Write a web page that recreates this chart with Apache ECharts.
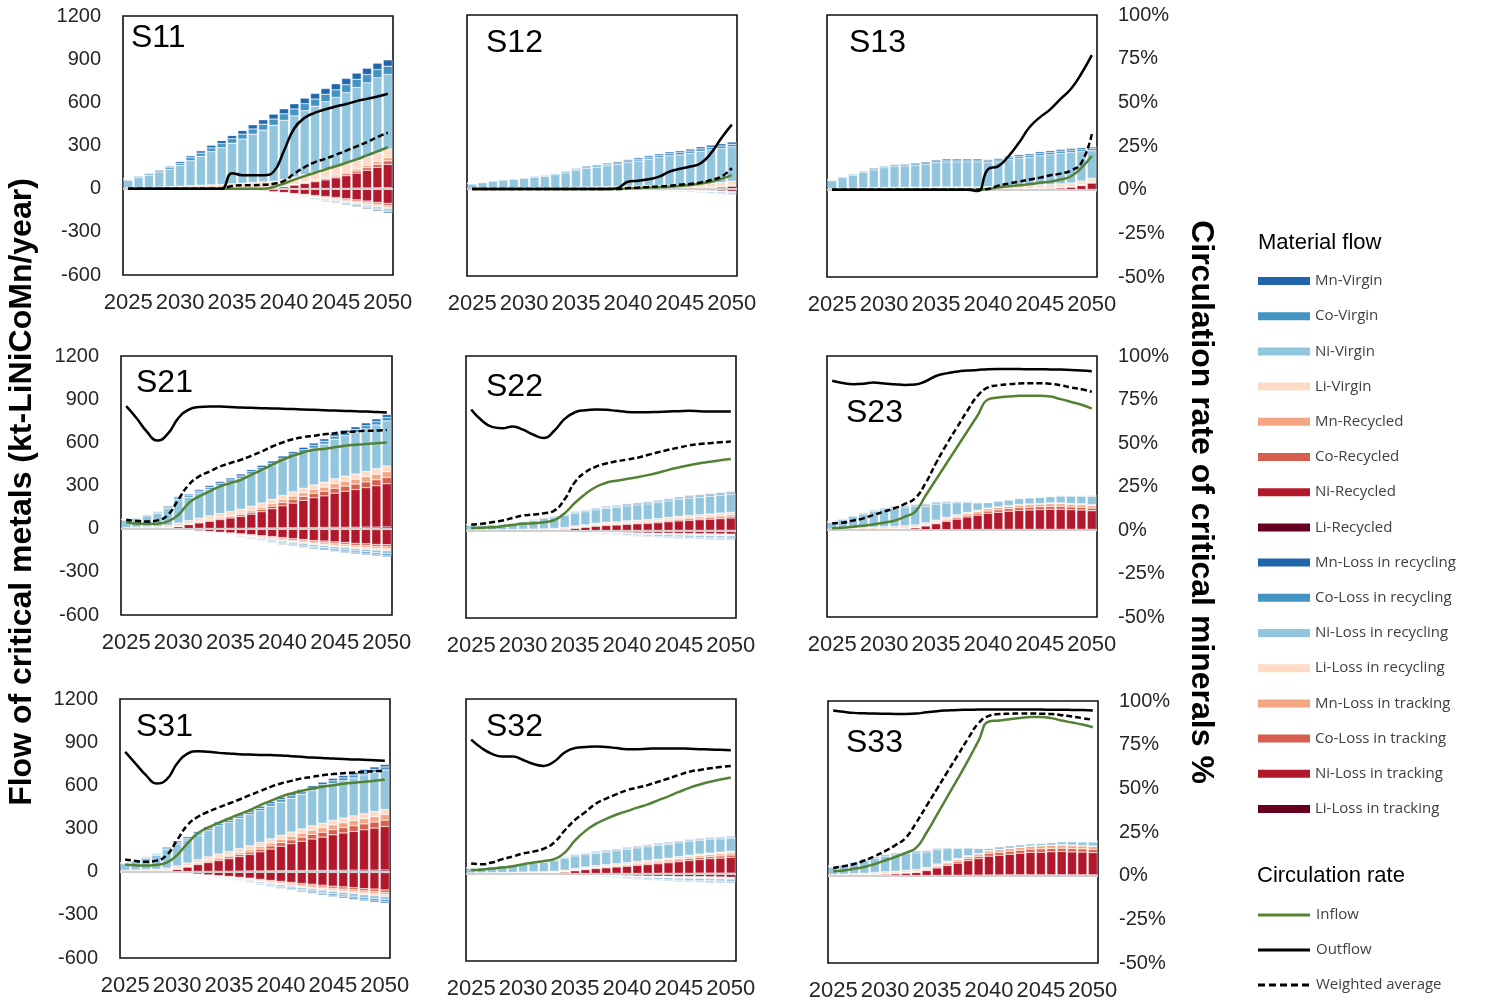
<!DOCTYPE html>
<html><head><meta charset="utf-8">
<script src="https://cdn.jsdelivr.net/npm/echarts@6/dist/echarts.min.js"></script>
<style>html,body{margin:0;padding:0;background:#fff}#c{width:1487px;height:1004px}</style>
</head><body><div id="c"></div>
<script>
var years = ['2025','2026','2027','2028','2029','2030','2031','2032','2033','2034','2035','2036','2037','2038','2039','2040','2041','2042','2043','2044','2045','2046','2047','2048','2049','2050'];
var flowNames = ['Mn-Virgin','Co-Virgin','Ni-Virgin','Li-Virgin','Mn-Recycled','Co-Recycled','Ni-Recycled','Li-Recycled','Mn-Loss in recycling','Co-Loss in recycling','Ni-Loss in recycling','Li-Loss in recycling','Mn-Loss in tracking','Co-Loss in tracking','Ni-Loss in tracking','Li-Loss in tracking'];
var flowKeys = ['MnV','CoV','NiV','LiV','MnR','CoR','NiR','LiR','MnLR','CoLR','NiLR','LiLR','MnLT','CoLT','NiLT','LiLT'];
var rateNames = ['Inflow','Outflow','Weighted average'];
var rateKeys = ['In','Out','Wavg'];
var panelNames = ['S11','S12','S13','S21','S22','S23','S31','S32','S33'];

// ---- S11 (kt/year; losses as magnitudes; rates in %) ----
var S11_MnV = [4,6,8,9,10,13,14,17,20,22,23,26,29,31,34,35,36,38,39,40,42,43,43,44,44,44];
var S11_CoV = [6,8,10,11,13,15,20,22,25,28,31,34,36,41,43,45,48,49,50,52,53,55,56,57,57,57];
var S11_NiV = [53,70,83,104,120,145,174,201,231,255,282,307,336,360,389,410,425,444,458,470,482,494,507,513,521,518];
var S11_LiV = [6,8,10,12,14,17,21,24,27,30,33,36,40,43,46,48,50,52,54,56,57,59,60,61,62,61];
var S11_MnR = [0,0,0,0,0,0,0,0,0,0,0,0,0,0,1,2,3,5,6,8,10,12,14,16,19,22];
var S11_CoR = [0,0,0,0,0,0,0,0,0,0,0,0,0,0,1,2,3,5,7,9,10,13,15,18,21,24];
var S11_NiR = [0,0,0,0,0,0,0,0,0,0,1,2,3,4,4,12,24,35,46,59,72,87,104,123,142,163];
var S11_LiR = [0,0,0,0,0,0,0,0,0,0,0,0,0,0,0,1,1,1,2,2,3,3,4,5,6,6];
var S11_MnLR = [0,0,0,0,0,0,0,0,0,0,0,1,1,1,2,2,3,3,4,5,5,6,6,7,8,9];
var S11_CoLR = [0,0,0,0,0,0,0,0,0,0,0,1,1,2,2,3,3,4,5,5,6,7,8,8,9,10];
var S11_NiLR = [0,0,0,0,0,0,0,0,0,0,0,1,1,2,2,3,4,5,6,7,7,8,9,10,11,13];
var S11_LiLR = [0,0,0,0,0,0,0,0,0,0,0,1,1,2,2,3,3,4,5,5,6,7,8,8,9,10];
var S11_MnLT = [0,0,0,0,0,0,0,0,0,0,1,1,1,2,2,3,4,5,5,6,7,8,9,10,11,12];
var S11_CoLT = [0,0,0,0,0,0,0,0,0,0,1,1,1,2,3,4,4,5,6,7,8,9,10,11,12,14];
var S11_NiLT = [0,0,0,0,1,2,3,4,5,6,6,6,10,13,21,26,32,37,45,52,58,67,74,82,90,97];
var S11_LiLT = [0,0,0,0,0,0,0,0,0,0,0,0,1,1,1,1,2,2,2,3,3,3,4,4,5,5];
var S11_In = [0,0,0,0,0,0,0,0,0,0,0,0,0,0,1,3,5.2,7.3,9.2,11.2,13,15,17,19.3,21.6,24];
var S11_Out = [0,0,0,0,0,0,0,0,0,0,9,7.8,7.7,7.8,9.8,22,35,41,44,46,47.6,49,50.7,52,53.4,55];
var S11_Wavg = [0,0,0,0,0,0,0,0,0,0,1.5,2,2,2.2,2.8,4.5,8.7,12.5,15.4,17.3,19.7,22,24.5,27,29.9,32.4];

// ---- S12 ----
var S12_MnV = [2,2,3,3,4,4,5,5,6,6,7,8,8,9,10,10,11,11,12,13,13,13,14,15,15,15];
var S12_CoV = [2,3,4,4,5,5,6,6,7,8,9,10,10,11,11,12,13,14,14,15,16,16,17,17,18,18];
var S12_NiV = [31,40,49,56,60,67,74,79,88,100,114,128,136,144,152,163,173,183,193,203,208,216,226,232,235,238];
var S12_LiV = [4,4,6,6,7,7,8,9,10,11,13,14,15,16,17,18,19,21,22,23,23,24,25,26,26,27];
var S12_MnR = [0,0,0,0,0,0,0,0,0,0,0,0,0,0,0,0,0,0,0,0,0,1,1,1,2,3];
var S12_CoR = [0,0,0,0,0,0,0,0,0,0,0,0,0,0,0,0,0,0,0,0,0,1,1,1,2,3];
var S12_NiR = [0,0,0,0,0,0,0,0,0,0,0,0,0,0,0,1,1,2,2,3,4,4,7,11,13,19];
var S12_LiR = [0,0,0,0,0,0,0,0,0,0,0,0,0,0,0,0,0,0,0,0,0,0,0,0,1,1];
var S12_MnLR = [0,0,0,0,0,0,0,0,0,0,0,0,0,0,1,1,1,1,2,2,2,3,3,3,4,4];
var S12_CoLR = [0,0,0,0,0,0,0,0,0,0,0,0,0,1,1,1,1,2,2,2,3,3,3,4,4,4];
var S12_NiLR = [0,0,0,0,0,0,0,0,0,0,1,1,1,1,2,3,3,4,5,6,6,7,8,9,10,11];
var S12_LiLR = [0,0,0,0,0,0,0,0,0,0,0,0,0,0,1,1,1,1,2,2,2,2,3,3,3,3];
var S12_MnLT = [0,0,0,0,0,0,0,0,0,0,0,0,0,0,0,0,1,1,1,1,1,1,2,2,2,2];
var S12_CoLT = [0,0,0,0,0,0,0,0,0,0,0,0,0,0,0,1,1,1,1,1,2,2,2,2,2,3];
var S12_NiLT = [0,0,0,0,0,0,0,0,0,1,1,2,3,3,2,3,5,6,6,8,9,9,10,11,13,15];
var S12_LiLT = [0,0,0,0,0,0,0,0,0,0,0,0,0,0,0,0,0,0,0,0,0,1,1,1,1,1];
var S12_In = [0,0,0,0,0,0,0,0,0,0,0,0,0,0,0,0.3,0.5,0.8,1,1.3,1.7,2.3,3.1,4.2,5.8,8];
var S12_Out = [0,0,0,0,0,0,0,0,0,0,0,0,0,0,0.5,4.2,4.8,5.6,7.1,10,11.6,12.9,14.8,20.6,29.3,37];
var S12_Wavg = [0,0,0,0,0,0,0,0,0,0,0,0,0,0,0,0.6,0.8,1.2,1.5,1.9,2.5,2.9,3.7,5.2,7.1,12];

// ---- S13 ----
var S13_MnV = [3,5,6,7,8,8,9,9,9,10,10,11,11,11,11,10,11,11,12,12,13,13,13,13,13,12];
var S13_CoV = [4,6,7,8,9,10,11,11,11,12,12,13,13,13,13,12,13,14,14,14,15,15,16,16,15,14];
var S13_NiV = [56,74,90,107,122,136,142,147,150,155,167,172,172,172,172,166,169,182,188,191,200,205,209,210,202,190];
var S13_LiV = [6,8,10,12,14,15,16,16,17,17,19,19,19,19,19,19,19,20,21,22,23,23,24,24,23,21];
var S13_MnR = [0,0,0,0,0,0,0,0,0,0,0,0,0,0,0,0,0,0,1,1,1,1,2,2,4,6];
var S13_CoR = [0,0,0,0,0,0,0,0,0,0,0,0,0,0,0,0,0,0,1,1,1,1,2,2,4,6];
var S13_NiR = [0,0,0,0,0,0,0,0,0,0,0,0,0,0,0,1,3,4,4,6,8,10,12,17,27,43];
var S13_LiR = [0,0,0,0,0,0,0,0,0,0,0,0,0,0,0,0,0,0,0,0,0,0,0,1,1,2];
var S13_MnLR = [0,0,0,0,0,0,0,0,0,0,0,0,0,0,0,0,0,1,1,1,1,1,1,1,1,2];
var S13_CoLR = [0,0,0,0,0,0,0,0,0,0,0,0,0,0,0,0,1,1,1,1,1,1,1,1,2,2];
var S13_NiLR = [0,0,0,0,0,0,0,0,0,0,0,0,0,0,1,1,1,1,1,1,2,2,2,3,3,4];
var S13_LiLR = [0,0,0,0,0,0,0,0,0,0,0,0,0,0,0,0,0,0,0,1,1,1,1,1,1,1];
var S13_MnLT = [0,0,0,0,0,0,0,0,0,0,0,0,0,0,0,0,0,0,0,0,0,0,0,1,1,1];
var S13_CoLT = [0,0,0,0,0,0,0,0,0,0,0,0,0,0,0,0,0,0,0,0,0,1,1,1,1,1];
var S13_NiLT = [0,0,0,0,0,0,0,0,0,0,0,0,0,0,0,1,1,1,2,2,2,3,4,4,5,6];
var S13_LiLT = [0,0,0,0,0,0,0,0,0,0,0,0,0,0,0,0,0,0,0,0,0,0,0,0,0,0];
var S13_In = [0,0,0,0,0,0,0,0,0,0,0,0,0,0,0,0.4,1.2,1.9,2.5,3.1,3.9,4.6,5.8,7.7,12.5,19.3];
var S13_Out = [0,0,0,0,0,0,0,0,0,0,0,0,0,0,-0.8,11.6,13.5,19.3,27,35.7,41.4,46,52,57.8,66.5,77];
var S13_Wavg = [0,0,0,0,0,0,0,0,0,0,0,0,0,0,0,0.4,2.3,3.5,4.6,5.8,6.9,8.3,9.2,11,15.4,31.8];

// ---- S21 ----
var S21_MnV = [3,4,5,6,8,10,10,11,12,12,13,14,14,15,15,15,15,16,16,17,17,18,18,19,19,20];
var S21_CoV = [4,5,6,7,9,12,12,13,14,15,16,16,17,17,18,18,19,19,19,20,21,21,22,22,23,24];
var S21_NiV = [50,63,76,92,121,163,162,175,185,196,204,215,223,229,233,241,244,249,256,265,275,281,288,296,304,313];
var S21_LiV = [6,8,10,12,15,21,20,22,24,25,26,27,28,29,30,30,31,32,32,34,35,36,36,37,39,40];
var S21_MnR = [0,0,0,0,1,2,4,5,7,8,9,11,13,15,17,20,23,25,27,29,31,33,34,36,38,40];
var S21_CoR = [0,0,0,0,1,2,4,6,7,9,10,12,14,17,19,22,25,27,30,32,34,36,38,40,42,44];
var S21_NiR = [2,2,3,3,5,13,27,38,49,61,71,82,97,113,133,153,171,190,207,219,238,250,262,274,287,300];
var S21_LiR = [0,0,0,0,0,1,1,2,2,2,3,3,4,5,5,6,7,7,8,9,9,10,10,11,11,12];
var S21_MnLR = [0,0,0,0,0,1,1,1,2,2,3,3,4,4,5,6,6,7,7,8,8,8,9,9,9,10];
var S21_CoLR = [0,0,0,0,0,1,1,2,2,3,3,4,4,5,6,7,7,8,8,9,9,10,10,11,11,12];
var S21_NiLR = [0,0,0,0,1,1,2,3,4,4,5,6,7,8,10,11,12,13,14,15,16,17,17,18,19,20];
var S21_LiLR = [0,0,0,0,0,1,1,2,2,3,3,4,4,5,6,7,7,8,8,9,9,10,10,11,11,12];
var S21_MnLT = [0,0,0,0,0,1,1,2,3,3,4,4,5,6,7,8,8,9,10,11,11,12,12,13,13,14];
var S21_CoLT = [0,0,0,0,0,1,2,2,3,4,4,5,6,7,8,9,10,10,11,12,13,13,14,14,15,16];
var S21_NiLT = [0,0,1,2,5,8,11,15,19,24,28,34,40,46,52,59,66,71,78,81,87,91,97,100,104,105];
var S21_LiLT = [0,0,0,0,0,0,1,1,1,1,2,2,2,3,3,3,4,4,4,5,5,5,5,5,6,6];
var S21_In = [3.7,2.9,2.8,2.9,4.2,8,14.8,18.7,21.6,24.5,26.4,28.3,31.2,34.1,37,39.9,42.2,44.1,45.7,46.2,47.2,48,48.6,49.1,49.5,49.9];
var S21_Out = [71,64,56,51,55,64,69,70.5,70.8,70.8,70.5,70.2,70,69.8,69.6,69.5,69.3,69,68.8,68.6,68.4,68.2,68,67.8,67.5,67.3];
var S21_Wavg = [5.2,4.4,4.2,4.8,8,16.8,25.4,30.3,33.1,36,38,39.9,42.2,44.7,47.6,49.9,51.8,53,53.8,54.7,55.3,55.9,56.3,56.7,56.8,57.2];

// ---- S22 ----
var S22_MnV = [2,2,2,3,3,3,4,4,5,5,6,6,6,6,6,7,7,7,7,7,7,8,8,8,8,8];
var S22_CoV = [2,2,3,3,3,4,5,5,6,6,7,7,7,7,7,8,8,8,8,9,9,9,9,9,9,9];
var S22_NiV = [33,33,35,39,44,52,61,71,75,83,89,89,93,96,99,102,105,107,110,113,116,119,120,122,123,125];
var S22_LiV = [4,4,5,5,6,7,8,9,10,10,11,11,12,12,12,13,13,14,14,14,15,15,15,15,16,16];
var S22_MnR = [0,0,0,0,0,0,0,0,0,1,2,3,4,5,5,6,6,6,7,8,8,9,10,10,11,11];
var S22_CoR = [0,0,0,0,0,0,0,0,1,1,2,3,4,5,5,6,6,7,8,8,9,10,10,11,12,12];
var S22_NiR = [1,1,1,1,2,3,3,4,5,10,16,23,30,35,38,41,45,48,52,59,64,68,72,76,79,84];
var S22_LiR = [0,0,0,0,0,0,0,0,0,0,1,1,1,1,1,2,2,2,2,2,3,3,3,3,3,3];
var S22_MnLR = [0,0,0,0,0,0,0,0,1,1,2,2,2,3,3,3,4,4,4,5,5,5,5,5,6,6];
var S22_CoLR = [0,0,0,0,0,0,0,1,1,1,2,2,3,3,3,4,4,4,5,5,5,6,6,6,6,6];
var S22_NiLR = [0,0,0,0,0,0,0,1,2,3,4,5,7,8,9,10,10,11,12,13,13,14,14,15,15,16];
var S22_LiLR = [0,0,0,0,0,0,0,0,1,1,1,2,2,2,3,3,3,4,4,4,4,4,5,5,5,5];
var S22_MnLT = [0,0,0,0,0,0,0,0,0,1,1,1,1,2,2,2,2,2,2,3,3,3,3,3,3,3];
var S22_CoLT = [0,0,0,0,0,0,0,0,0,1,1,1,2,2,2,2,3,3,3,3,3,3,3,4,4,4];
var S22_NiLT = [0,0,0,0,0,1,2,3,3,4,7,9,9,10,12,14,15,16,17,17,19,20,21,21,22,23];
var S22_LiLT = [0,0,0,0,0,0,0,0,0,0,0,0,1,1,1,1,1,1,1,1,1,1,1,1,1,1];
var S22_In = [1.5,1.7,1.9,2.5,3.3,3.9,4.2,4.8,6,10,16,21,25,27.4,28.6,29.6,30.6,31.8,33.2,34.8,36.2,37.5,38.6,39.4,40.3,41];
var S22_Out = [69.4,63.2,59.4,58.6,59.7,57.8,54.9,53,57.2,64,67.8,69,69.4,69.2,68.6,68,67.8,67.8,68,68.2,68.4,68.6,68.4,68.2,68.2,68.2];
var S22_Wavg = [3.5,3.9,4.8,5.8,7.3,8.7,9.2,10,11.5,18,27.9,33.5,36.6,38.5,39.7,40.7,41.8,43.3,44.9,46.3,47.6,48.8,49.6,50.1,50.6,51];

// ---- S23 ----
var S23_MnV = [3,4,5,6,7,8,8,8,8,7,7,6,5,4,3,2,2,3,3,3,3,3,3,3,3,4];
var S23_CoV = [3,5,6,7,8,9,9,10,10,9,8,7,6,5,4,3,3,3,3,3,3,3,4,4,4,4];
var S23_NiV = [45,63,81,95,109,118,125,126,127,114,111,99,83,68,51,38,39,39,40,41,42,43,47,51,53,58];
var S23_LiV = [6,8,10,12,14,15,16,16,16,15,14,12,11,9,7,5,5,5,5,5,5,6,6,6,7,7];
var S23_MnR = [0,0,0,0,0,1,1,1,2,3,5,7,9,11,13,15,16,16,17,18,18,18,18,18,17,17];
var S23_CoR = [0,0,0,0,1,1,1,1,2,4,6,8,10,12,14,16,17,18,19,19,20,20,20,19,19,18];
var S23_NiR = [1,1,2,3,4,5,7,11,14,27,41,58,72,87,98,111,117,124,130,133,135,138,138,135,133,128];
var S23_LiR = [0,0,0,0,0,0,0,0,1,1,2,2,3,3,4,4,5,5,5,5,5,5,5,5,5,5];
var S23_MnLR = [0,0,0,0,0,0,0,0,0,1,1,1,2,2,2,2,2,2,2,2,2,2,2,2,2,2];
var S23_CoLR = [0,0,0,0,0,0,0,0,1,1,1,2,2,2,2,2,2,2,2,2,2,2,2,2,2,2];
var S23_NiLR = [0,0,0,0,0,1,1,2,2,2,4,4,4,5,6,6,6,7,7,7,7,8,8,8,8,8];
var S23_LiLR = [0,0,0,0,0,0,0,0,0,1,1,1,1,1,1,1,1,1,1,1,1,1,1,1,1,1];
var S23_MnLT = [0,0,0,0,0,0,0,0,0,0,0,0,0,0,0,0,0,0,0,0,0,0,0,0,0,0];
var S23_CoLT = [0,0,0,0,0,0,0,0,0,0,0,0,0,0,0,0,0,0,0,0,0,0,0,0,0,0];
var S23_NiLT = [0,0,0,0,0,0,0,0,0,1,1,1,1,1,1,1,1,1,1,1,1,1,1,1,1,1];
var S23_LiLT = [0,0,0,0,0,0,0,0,0,0,0,0,0,0,0,0,0,0,0,0,0,0,0,0,0,0];
var S23_In = [1,1.3,1.9,2.5,3.3,4.2,5.4,7.7,10.6,19.8,29,38.2,47.4,56.6,65.8,75,76.1,76.7,77.1,77.1,77.1,76.7,75.2,73.6,72,69.8];
var S23_Out = [85.8,84.5,83.8,84,84.8,84.2,83.8,83.4,83.6,85.5,88.5,90,91,91.6,92,92.4,92.5,92.5,92.5,92.4,92.4,92.3,92.2,92,91.7,91.3];
var S23_Wavg = [3.9,4.2,5.4,6.7,8.7,10.6,12.5,15,18.3,27,38.5,49.1,58.8,68.4,77.1,81.9,83.2,83.8,84.2,84.4,84.4,84,83.2,81.9,80.9,79.4];

// ---- S31 ----
var S31_MnV = [3,4,5,6,8,10,10,11,12,12,13,13,14,14,14,15,15,15,15,16,16,16,17,17,17,17];
var S31_CoV = [4,5,6,7,10,12,12,13,14,15,15,16,17,17,17,18,18,18,19,19,19,20,20,20,21,21];
var S31_NiV = [46,61,79,97,130,153,161,170,183,197,202,211,217,221,227,230,234,241,244,250,256,259,264,270,272,274];
var S31_LiV = [6,8,10,12,16,19,20,22,23,25,26,27,28,28,29,29,30,30,31,32,32,33,33,34,35,35];
var S31_MnR = [0,0,0,0,1,2,4,6,8,10,11,13,15,18,20,22,25,27,29,31,33,34,36,37,38,40];
var S31_CoR = [0,0,0,1,1,2,4,7,9,11,13,15,17,19,22,25,27,29,32,34,36,37,39,41,42,44];
var S31_NiR = [3,3,4,4,7,16,31,47,61,74,87,101,115,133,151,170,187,203,218,231,246,259,269,280,292,302];
var S31_LiR = [0,0,0,0,0,1,1,2,2,3,3,4,5,5,6,7,7,8,9,9,10,10,11,11,11,12];
var S31_MnLR = [0,0,0,0,0,1,1,2,2,2,3,3,4,5,5,6,6,7,8,8,9,9,10,10,11,11];
var S31_CoLR = [0,0,0,0,0,1,1,2,2,3,3,4,5,5,6,7,8,8,9,10,10,11,12,12,13,13];
var S31_NiLR = [0,0,0,0,1,2,2,3,4,5,6,7,8,9,10,12,13,14,15,16,17,18,19,20,21,22];
var S31_LiLR = [0,0,0,0,0,1,1,2,2,3,3,4,5,5,6,7,8,8,9,10,10,11,12,12,13,13];
var S31_MnLT = [0,0,0,0,1,1,2,2,3,3,4,5,5,6,7,8,9,10,11,11,12,13,14,14,15,15];
var S31_CoLT = [0,0,0,0,1,1,2,2,3,4,5,5,6,7,8,9,10,11,12,13,14,15,15,16,17,17];
var S31_NiLT = [0,1,2,4,5,8,12,16,22,27,31,37,43,50,58,64,70,78,82,89,96,101,105,112,115,120];
var S31_LiLT = [0,0,0,0,0,0,1,1,1,1,2,2,2,3,3,3,4,4,5,5,5,5,6,6,6,7];
var S31_In = [4.2,3.7,3.5,3.9,5.2,9.6,16.4,22.2,25.6,28.3,30.8,33.3,35.6,38.5,41,43.4,45.3,46.8,48.2,49.1,50.1,50.9,51.5,52,52.6,53.4];
var S31_Out = [69.4,62.6,55.9,51.1,53.4,62.6,68.4,69.8,69.4,68.8,68.4,68,67.8,67.6,67.5,67.3,66.9,66.5,66.1,65.9,65.5,65.3,65,64.8,64.5,64.2];
var S31_Wavg = [7.1,6.2,5.8,6.4,9.6,18.3,27,31.8,34.7,37.2,39.5,41.8,44.3,46.6,49.1,51.1,52.6,54,54.9,55.9,56.5,57,57.4,57.8,58.2,58.4];

// ---- S32 ----
var S32_MnV = [2,2,3,3,3,3,4,4,5,5,5,5,5,6,6,6,6,6,6,6,6,6,6,6,6,6];
var S32_CoV = [2,3,3,3,4,4,5,5,5,6,7,6,7,7,7,7,7,7,7,7,7,7,7,7,7,7];
var S32_NiV = [33,35,40,46,49,54,59,65,72,83,86,86,86,87,89,91,93,95,96,95,95,94,93,93,91,90];
var S32_LiV = [4,5,5,6,6,7,8,8,9,10,11,11,11,11,11,12,12,12,12,12,12,12,12,12,12,12];
var S32_MnR = [0,0,0,0,0,0,0,1,1,1,2,3,4,5,6,6,7,8,9,10,11,12,12,13,14,14];
var S32_CoR = [0,0,0,0,0,0,1,1,1,2,3,4,5,6,6,7,8,9,10,10,12,13,14,14,15,16];
var S32_NiR = [1,1,2,2,3,4,4,4,6,11,19,27,34,38,44,49,55,60,65,72,79,87,93,99,103,108];
var S32_LiR = [0,0,0,0,0,0,0,0,0,0,1,1,1,2,2,2,2,2,3,3,3,3,4,4,4,4];
var S32_MnLR = [0,0,0,0,0,0,0,1,1,1,2,2,2,3,3,3,4,4,4,5,5,5,5,6,6,6];
var S32_CoLR = [0,0,0,0,0,0,0,1,1,1,2,2,3,3,3,4,4,4,5,5,5,6,6,6,6,6];
var S32_NiLR = [0,0,0,0,0,0,0,1,2,3,4,5,6,7,8,9,10,11,12,13,13,14,15,15,16,16];
var S32_LiLR = [0,0,0,0,0,0,0,0,1,1,1,2,2,2,3,3,3,4,4,4,4,5,5,5,5,5];
var S32_MnLT = [0,0,0,0,0,0,0,0,0,1,1,1,1,2,2,2,2,2,2,3,3,3,3,3,3,3];
var S32_CoLT = [0,0,0,0,0,0,0,0,1,1,1,1,2,2,2,2,3,3,3,3,3,3,4,4,4,4];
var S32_NiLT = [0,0,0,0,0,1,2,3,3,5,7,9,9,10,12,14,15,16,17,17,20,20,20,21,22,24];
var S32_LiLT = [0,0,0,0,0,0,0,0,0,0,0,0,1,1,1,1,1,1,1,1,1,1,1,1,1,1];
var S32_In = [2.1,2.3,2.9,3.5,4.2,5.4,6.4,7.3,8.3,12,19,24.5,28.5,31.4,33.9,35.8,37.8,39.7,42,44.3,46.8,49.1,51,52.6,53.9,55.1];
var S32_Out = [76.7,71.9,68.6,67.1,67.1,65.1,62.8,61.7,64.2,69.4,71.9,72.5,72.8,72.5,71.9,71.3,71.3,71.5,71.7,71.7,71.7,71.5,71.3,71.1,70.9,70.7];
var S32_Wavg = [5.8,5.4,6.4,8.3,9.8,11.6,12.7,14.3,17.9,24.7,30.8,35.3,40.1,43,45.5,47.8,49.3,50.7,52.6,54.5,56.5,58.4,59.4,60.3,61.1,61.7];

// ---- S33 ----
var S33_MnV = [3,4,5,6,6,7,7,7,7,7,6,5,4,3,2,1,1,1,1,1,1,1,1,1,2,2];
var S33_CoV = [4,5,6,7,8,8,9,9,9,8,8,6,5,4,3,1,1,1,1,1,1,1,2,2,2,2];
var S33_NiV = [50,62,75,88,98,108,113,116,114,106,98,86,70,53,35,18,19,18,17,16,17,19,20,23,25,28];
var S33_LiV = [6,8,10,11,13,14,14,15,15,13,13,11,9,7,4,2,2,2,2,2,2,2,3,3,3,4];
var S33_MnR = [0,0,0,1,1,1,2,2,3,4,7,9,11,13,15,17,18,19,19,20,21,21,21,21,20,20];
var S33_CoR = [0,0,0,1,1,1,2,2,3,5,7,10,12,14,16,19,20,20,21,22,23,23,23,23,22,22];
var S33_NiR = [2,2,4,4,7,11,12,17,21,34,51,67,83,99,113,129,135,141,148,154,155,158,160,157,156,152];
var S33_LiR = [0,0,0,0,0,0,1,1,1,1,2,3,3,4,4,5,5,6,6,6,6,6,6,6,6,6];
var S33_MnLR = [0,0,0,0,0,0,0,0,0,0,0,0,1,1,1,1,1,1,1,1,1,1,1,1,1,1];
var S33_CoLR = [0,0,0,0,0,0,0,0,0,0,0,1,1,1,1,1,1,1,1,1,1,1,1,1,1,1];
var S33_NiLR = [0,0,0,0,0,0,0,0,0,0,1,1,1,2,2,2,2,3,3,3,3,3,3,3,3,3];
var S33_LiLR = [0,0,0,0,0,0,0,0,0,0,0,0,0,0,1,1,1,1,1,1,1,1,1,1,1,1];
var S33_MnLT = [0,0,0,0,0,0,0,0,0,0,0,0,0,0,0,0,0,0,0,0,0,0,0,0,0,0];
var S33_CoLT = [0,0,0,0,0,0,0,0,0,0,0,0,0,0,0,0,0,0,0,0,0,0,0,0,0,0];
var S33_NiLT = [0,0,0,0,0,0,0,0,0,0,0,0,0,0,0,0,0,0,0,0,0,0,0,0,0,0];
var S33_LiLT = [0,0,0,0,0,0,0,0,0,0,0,0,0,0,0,0,0,0,0,0,0,0,0,0,0,0];
var S33_In = [2.5,2.9,3.9,5,6.7,8.7,10.8,13.1,16,24.7,34.9,45.3,55.5,66.1,77.3,88.3,88.8,89.6,90.2,90.8,90.8,90.2,88.8,87.7,86.5,85];
var S33_Out = [94.6,93.8,93.2,93,92.8,92.7,92.6,92.6,92.8,93.6,94.2,94.6,94.9,95,95.1,95.2,95.2,95.2,95.2,95.1,95.1,95,95,94.9,94.8,94.6];
var S33_Wavg = [4.4,5.4,6.7,8.7,11.2,14.1,17.5,21.8,30.4,40.1,49.7,59.4,69,78.6,87.3,91.5,92.5,92.7,92.9,92.9,92.7,92.5,91.9,91.1,90.2,89.2];

// ---------- presentation ----------
var FONT = "'Liberation Sans', Arial, sans-serif";
var COLORS = {MnV:'#2166ac',CoV:'#4393c3',NiV:'#92c5de',LiV:'#fddbc7',MnR:'#f4a582',CoR:'#d6604d',NiR:'#b2182b',LiR:'#67001f',
  MnLR:'#2166ac',CoLR:'#4393c3',NiLR:'#92c5de',LiLR:'#fddbc7',MnLT:'#f4a582',CoLT:'#d6604d',NiLT:'#b2182b',LiLT:'#67001f'};
var STACK_ORDER = ['LiR','NiR','CoR','MnR','LiV','NiV','CoV','MnV','LiLT','NiLT','CoLT','MnLT','LiLR','NiLR','CoLR','MnLR'];
var LAYOUT = [
  {l:123,t:16,w:270,h:259,tx:131,ty:37},
  {l:467,t:15,w:270,h:261,tx:486,ty:42},
  {l:827,t:15,w:270,h:262,tx:849,ty:42},
  {l:121,t:356,w:271,h:259,tx:136,ty:382},
  {l:466,t:356,w:270,h:262,tx:486,ty:386},
  {l:827,t:356,w:270,h:261,tx:846,ty:412},
  {l:120,t:699,w:270,h:259,tx:136,ty:726},
  {l:466,t:699,w:270,h:262,tx:486,ty:726},
  {l:828,t:701,w:270,h:262,tx:846,ty:742}
];
var LINE_STYLES = {
  In:{color:'#548235', width:2.5, type:'solid'},
  Out:{color:'#000', width:2.5, type:'solid'},
  Wavg:{color:'#000', width:2.5, type:[6,3]}
};

var grids=[], xAxes=[], yAxes=[], series=[], titles=[];
panelNames.forEach(function(p,i){
  var L = LAYOUT[i], col = i%3;
  grids.push({left:L.l, top:L.t, width:L.w, height:L.h, show:true, borderColor:'#111', borderWidth:1.6, backgroundColor:'rgba(0,0,0,0)', containLabel:false, outerBoundsMode:'none'});
  xAxes.push({type:'category', gridIndex:i, data:years, position:'bottom',
    axisLine:{show:false,onZero:false}, axisTick:{show:false}, splitLine:{show:false},
    axisLabel:{interval:4, fontSize:22, color:'#262626', margin:17, fontFamily:FONT, hideOverlap:false}});
  yAxes.push({type:'value', gridIndex:i, position:'left', min:-600, max:1200, interval:300,
    axisLine:{show:false}, axisTick:{show:false}, splitLine:{show:false},
    axisLabel:{show:col===0, fontSize:20, color:'#262626', margin:22, fontFamily:FONT, formatter:function(v){return String(v);}}});
  yAxes.push({type:'value', gridIndex:i, position:'right', min:-50, max:100, interval:25,
    axisLine:{show:false}, axisTick:{show:false}, splitLine:{show:false},
    axisLabel:{show:col===2, fontSize:20, color:'#262626', margin:21, fontFamily:FONT, formatter:'{value}%', align:'left'}});
  titles.push({text:p, left:L.tx, top:L.ty-15, padding:0, textStyle:{fontSize:32, fontWeight:'normal', color:'#000', fontFamily:FONT}});
  STACK_ORDER.forEach(function(k, j){
    var arr = window[p+'_'+k];
    var isLoss = k.length === 4;
    var s = {type:'bar', name:flowNames[flowKeys.indexOf(k)], xAxisIndex:i, yAxisIndex:2*i, stack:'st'+i,
      data: isLoss ? arr.map(function(v){return -v;}) : arr.slice(),
      barCategoryGap:'12%', itemStyle:{color:COLORS[k], borderColor:'#fff', borderWidth:0.4},
      emphasis:{disabled:true}, silent:true};
    if (j === STACK_ORDER.length-1) {
      s.markLine = {silent:true, symbol:'none', label:{show:false}, z:5,
        lineStyle:{color:'#d0d0d0', width:2, type:'solid'}, data:[{yAxis:0}], animation:false};
    }
    series.push(s);
  });
  rateKeys.forEach(function(k, j){
    series.push({type:'line', name:rateNames[j], xAxisIndex:i, yAxisIndex:2*i+1, data:window[p+'_'+k].slice(),
      smooth:true, symbol:'none', showSymbol:false, lineStyle:LINE_STYLES[k], itemStyle:{color:LINE_STYLES[k].color},
      z:6, emphasis:{disabled:true}, silent:true});
  });
});

// legend for the circulation-rate lines, drawn as line samples + text
var rateLegend = [];
rateKeys.forEach(function(k, j){
  var y = 915 + j*35;
  var st = LINE_STYLES[k];
  rateLegend.push({type:'line', shape:{x1:1258, y1:y, x2:1310, y2:y}, style:{stroke:st.color, lineWidth:3, lineDash: Array.isArray(st.type) ? [7,4] : null}});
  rateLegend.push({type:'text', x:1316, y:y, style:{text:rateNames[j], font:"15px 'Open Sans', sans-serif", fill:'#404040', textVerticalAlign:'middle', verticalAlign:'middle'}});
});

var chart = echarts.init(document.getElementById('c'), null, {renderer:'canvas'});
chart.setOption({
  animation:false,
  backgroundColor:'#fff',
  title:titles,
  grid:grids, xAxis:xAxes, yAxis:yAxes, series:series,
  legend:[
    {data:flowNames, orient:'vertical', left:1258, top:273, itemWidth:52, itemHeight:8, itemGap:19.2, icon:'rect', padding:0,
     itemStyle:{borderWidth:0}, textStyle:{fontSize:15, color:'#404040', fontFamily:"'Open Sans', sans-serif", lineHeight:16}}
  ],
  graphic:[
    {type:'text', x:22, y:492, rotation:Math.PI/2, style:{text:'Flow of critical metals (kt-LiNiCoMn/year)', font:"bold 32px 'Liberation Sans', Arial, sans-serif", fill:'#000', textAlign:'center', textVerticalAlign:'middle', align:'center', verticalAlign:'middle'}},
    {type:'text', x:1201, y:502, rotation:-Math.PI/2, style:{text:'Circulation rate of critical minerals %', font:"bold 32px 'Liberation Sans', Arial, sans-serif", fill:'#000', textAlign:'center', textVerticalAlign:'middle', align:'center', verticalAlign:'middle'}},
    {type:'text', x:1258, y:243, style:{text:'Material flow', font:"22px 'Liberation Sans', Arial, sans-serif", fill:'#000', textVerticalAlign:'middle', verticalAlign:'middle'}},
    {type:'text', x:1257, y:876, style:{text:'Circulation rate', font:"22px 'Liberation Sans', Arial, sans-serif", fill:'#000', textVerticalAlign:'middle', verticalAlign:'middle'}}
  ].concat(rateLegend)
});
</script>
</body></html>
